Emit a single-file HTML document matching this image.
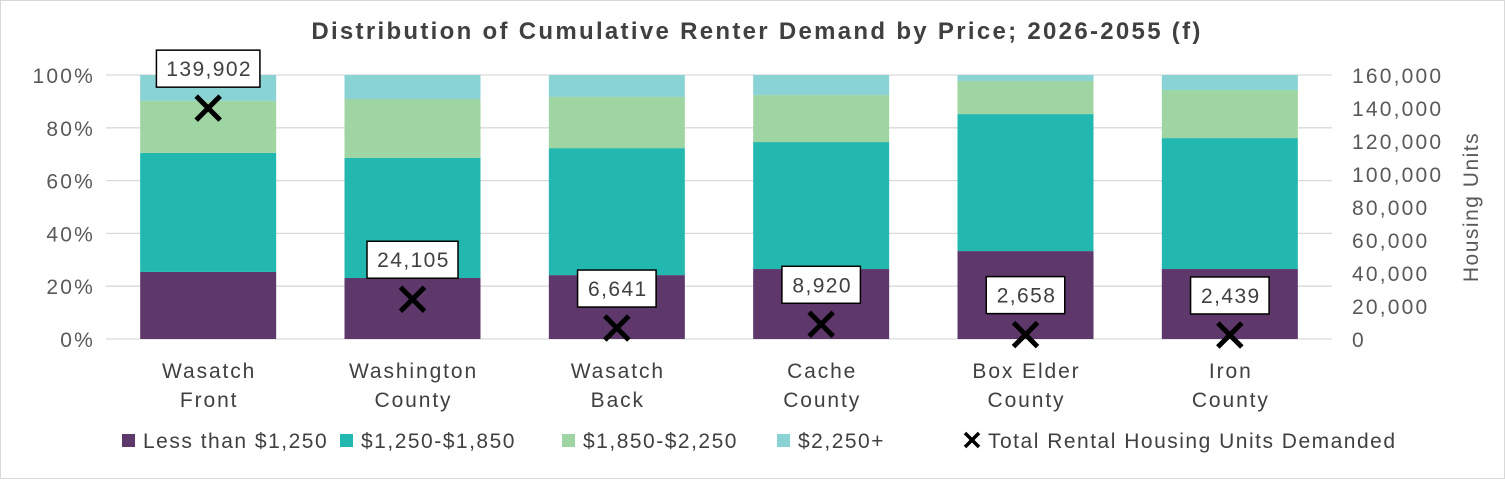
<!DOCTYPE html>
<html><head><meta charset="utf-8"><style>
body{margin:0;background:#fff;}
svg text{font-family:"Liberation Sans",sans-serif;}
.tk{font-size:21px;letter-spacing:2.2px;}
.cat{font-size:21px;letter-spacing:1.9px;}
.lg{font-size:21px;letter-spacing:1.5px;}
.dl{font-size:21px;letter-spacing:1.4px;}
</style></head><body>
<svg id="chart" width="1505" height="479" viewBox="0 0 1505 479" xmlns="http://www.w3.org/2000/svg">
<rect x="0.5" y="0.5" width="1504" height="478" fill="#fff" stroke="#d9d9d9"/>
<text x="757" y="39" text-anchor="middle" font-size="24" font-weight="bold" fill="#404040" style="letter-spacing:2.3px">Distribution of Cumulative Renter Demand by Price; 2026-2055 (f)</text>
<g id="grid"></g><g id="bars"></g><g id="axes"></g><g id="marks"></g>
<text transform="translate(1478,207) rotate(-90)" text-anchor="middle" class="lg" fill="#595959">Housing Units</text>
<g id="legend"></g>
</svg>
<script>
const categories=[["Wasatch","Front"],["Washington","County"],["Wasatch","Back"],["Cache","County"],["Box Elder","County"],["Iron","County"]];
const lessThan1250=[25.4,23.1,24.2,26.5,33.3,26.5];
const s1250to1850=[45.1,45.5,48.1,48.1,51.9,49.6];
const s1850to2250=[19.7,22.3,19.4,17.8,12.5,18.2];
const s2250plus=[9.8,9.1,8.3,7.6,2.3,5.7];
const totalUnits=[139902,24105,6641,8920,2658,2439];
const leftTicks=["0%","20%","40%","60%","80%","100%"];
const rightTicks=[0,20000,40000,60000,80000,100000,120000,140000,160000];
const NS="http://www.w3.org/2000/svg";
const L=106,R=1332,T=75,B=339,step=(R-L)/categories.length,bw=136;
const yP=v=>B-v/100*(B-T);
const yU=v=>B-v/160000*(B-T);
const xC=i=>L+step*(i+0.5);
function mk(t,a,p){const e=document.createElementNS(NS,t);for(const k in a)e.setAttribute(k,a[k]);p.appendChild(e);return e;}
const g=document.getElementById('grid'),bars=document.getElementById('bars'),ax=document.getElementById('axes'),mg=document.getElementById('marks'),lg=document.getElementById('legend');
leftTicks.forEach((t,i)=>{const v=i*20;
const ln=mk('line',{x1:L,x2:R,y1:yP(v),y2:yP(v),stroke:'#d9d9d9','stroke-width':1.3},g);


const tx=mk('text',{x:95,y:yP(v)+8,'text-anchor':'end','class':'tk',fill:'#595959'},ax);tx.textContent=t;

});
rightTicks.forEach(v=>{const tx=mk('text',{x:1352,y:yU(v)+8,'class':'tk',fill:'#595959'},ax);tx.textContent=v.toLocaleString('en-US');

});
const series=[[lessThan1250,'#5e376b','Less than $1,250'],[s1250to1850,'#22b8b0','$1,250-$1,850'],[s1850to2250,'#9fd4a3','$1,850-$2,250'],[s2250plus,'#8ad3d4','$2,250+']];
categories.forEach((c,i)=>{let acc=0;
series.forEach((s,k)=>{const v=s[0][i];const r=mk('rect',{x:xC(i)-bw/2,y:yP(acc+v),width:bw,height:yP(acc)-yP(acc+v),fill:s[1]},bars);

acc+=v;});
c.forEach((w,j)=>{const tx=mk('text',{x:xC(i)+1,y:378+j*29,'text-anchor':'middle','class':'cat',fill:'#404040'},ax);tx.textContent=w;

});
const y=yU(totalUnits[i]),x=xC(i);
const m=mk('path',{d:`M${x-12} ${y-12}L${x+12} ${y+12}M${x+12} ${y-12}L${x-12} ${y+12}`,stroke:'#000','stroke-width':5},mg);


const lbl=totalUnits[i].toLocaleString('en-US');const w=lbl.length*12.5+16;
const bx=mk('rect',{x:x-w/2,y:y-58,width:w,height:37,fill:'#fff',stroke:'#000','stroke-width':1.5},mg);


const tx=mk('text',{x:x+1,y:y-32,'text-anchor':'middle','class':'dl',fill:'#404040'},mg);tx.textContent=lbl;

});
const lx=[122,340,562,777,962];
series.forEach((s,k)=>{const r=mk('rect',{x:lx[k],y:434,width:13,height:13,fill:s[1]},lg);


const t=mk('text',{x:lx[k]+21,y:448,'class':'lg',fill:'#404040'},lg);t.textContent=s[2];

});
const p=mk('path',{d:'M965 433L979 447M979 433L965 447',stroke:'#000','stroke-width':3.5},lg);


const t=mk('text',{x:988,y:448,'class':'lg',fill:'#404040'},lg);t.textContent='Total Rental Housing Units Demanded';


</script>
</body></html>
